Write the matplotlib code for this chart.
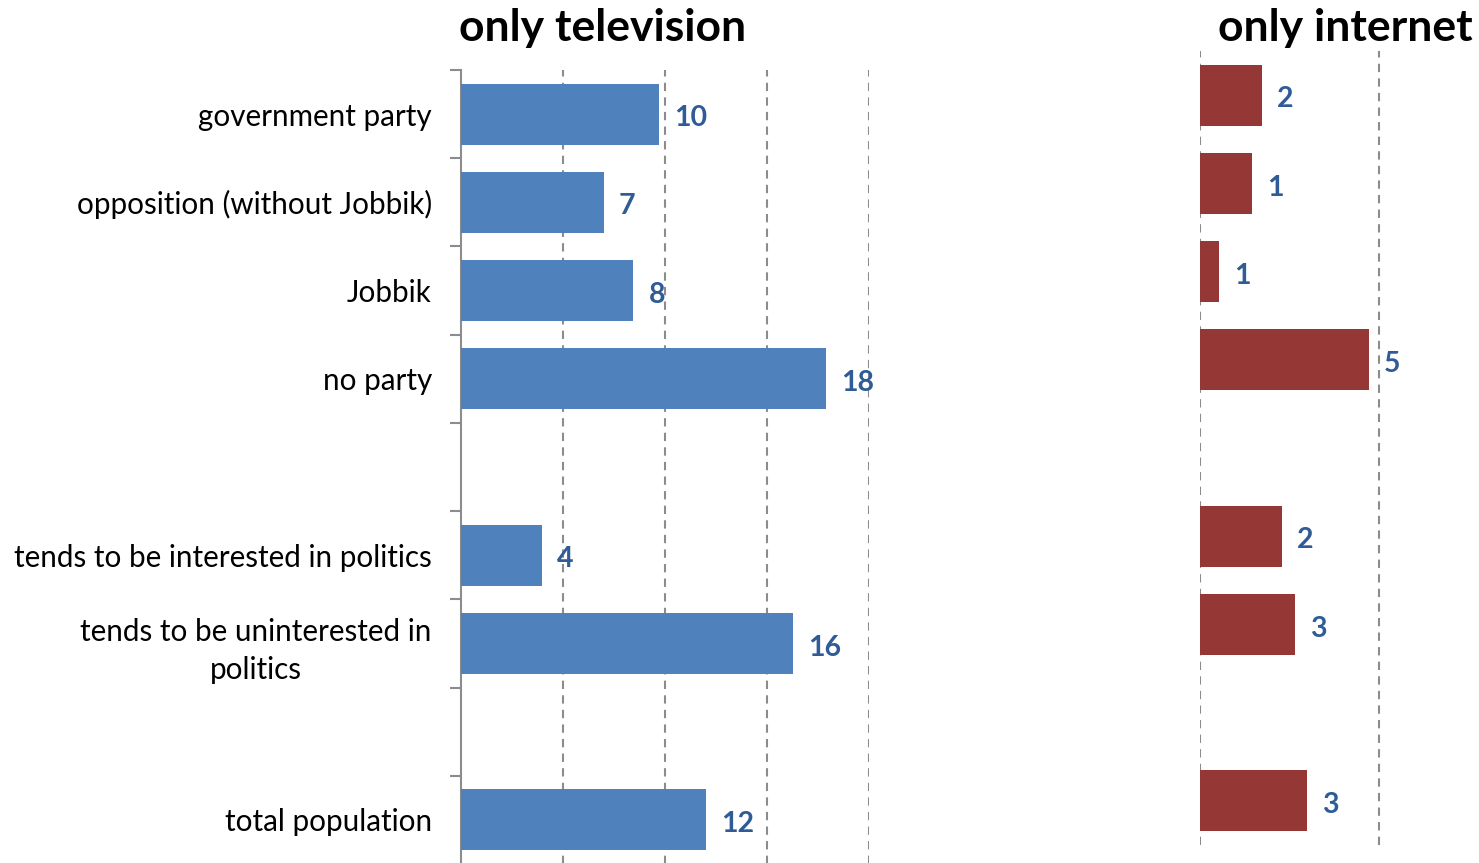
import matplotlib
matplotlib.use("Agg")
import matplotlib.pyplot as plt
import numpy as np

plt.rcParams['font.family'] = ['Lato', 'DejaVu Sans']

categories = ["government party", "opposition (without Jobbik)", "Jobbik", "no party", "",
              "tends to be interested in politics", "tends to be uninterested in\npolitics", "",
              "total population"]
tv_values = [9.7, 7.0, 8.45, 17.9, np.nan, 3.97, 16.27, np.nan, 12.0]
tv_labels = ["10", "7", "8", "18", "", "4", "16", "", "12"]
net_values = [1.73, 1.45, 0.53, 4.72, np.nan, 2.29, 2.65, np.nan, 2.99]
net_labels = ["2", "1", "1", "5", "", "2", "3", "", "3"]

W, H = 1479, 863
fig = plt.figure(figsize=(W / 100, H / 100), dpi=100)

BLUE = "#4F81BD"
RED = "#953735"
LBL = "#2F5B97"
GRID = "#8C8C8C"

def px(x0, y0, x1, y1):
    return [x0 / W, 1 - y1 / H, (x1 - x0) / W, (y1 - y0) / H]

y = np.arange(len(categories))

# Left panel
ax = fig.add_axes(px(461, 70, 869, 864))
ax.barh(y, tv_values, height=0.69, color=BLUE, zorder=3)
ax.set_xlim(0, 20)
ax.set_ylim(len(categories) - 0.5, -0.5)
ax.set_xticks([5, 10, 15, 20])
ax.xaxis.grid(True, linestyle=(0, (4, 3)), color=GRID, linewidth=1.5)
ax.tick_params(axis='x', length=0, labelbottom=False)
ax.set_yticks(y)
ax.set_yticklabels(categories, fontsize=21.3)
for t in ax.get_yticklabels():
    t.set_multialignment('center')
    t.set_linespacing(1.45)
ax.set_yticks(np.arange(-0.5, len(categories)), minor=True)
ax.tick_params(axis='y', which='major', length=0, pad=21)
ax.tick_params(axis='y', which='minor', length=8, width=1.5, color=GRID)
for s in ['top', 'right', 'bottom']:
    ax.spines[s].set_visible(False)
ax.spines['left'].set_color(GRID)
ax.spines['left'].set_linewidth(1.5)
for yi, v, lab in zip(y, tv_values, tv_labels):
    if lab:
        ax.annotate(lab, (v, yi), xytext=(11, -3), textcoords='offset points',
                    ha='left', va='center', fontsize=20.5, fontweight='bold', color=LBL, zorder=4)

# Right panel
ax2 = fig.add_axes(px(1200, 51, 1490, 845))
ax2.barh(y, net_values, height=0.69, color=RED, zorder=3)
ax2.set_xlim(0, 8.1)
ax2.set_ylim(len(categories) - 0.5, -0.5)
ax2.set_xticks([0, 5])
ax2.xaxis.grid(True, linestyle=(0, (4, 3)), color=GRID, linewidth=1.5)
ax2.tick_params(axis='both', length=0, labelbottom=False, labelleft=False)
for s in ax2.spines.values():
    s.set_visible(False)
for yi, v, lab in zip(y, net_values, net_labels):
    if lab:
        ax2.annotate(lab, (v, yi), xytext=(11, -3), textcoords='offset points',
                     ha='left', va='center', fontsize=20.5, fontweight='bold', color=LBL, zorder=4)

fig.text(603 / W, 1 - 41 / H, "only television", ha='center', va='baseline',
         fontsize=32, fontweight='bold', color='black')
fig.text(1345 / W, 1 - 41 / H, "only internet", ha='center', va='baseline',
         fontsize=32, fontweight='bold', color='black')

fig.savefig("out.png", dpi=100)
